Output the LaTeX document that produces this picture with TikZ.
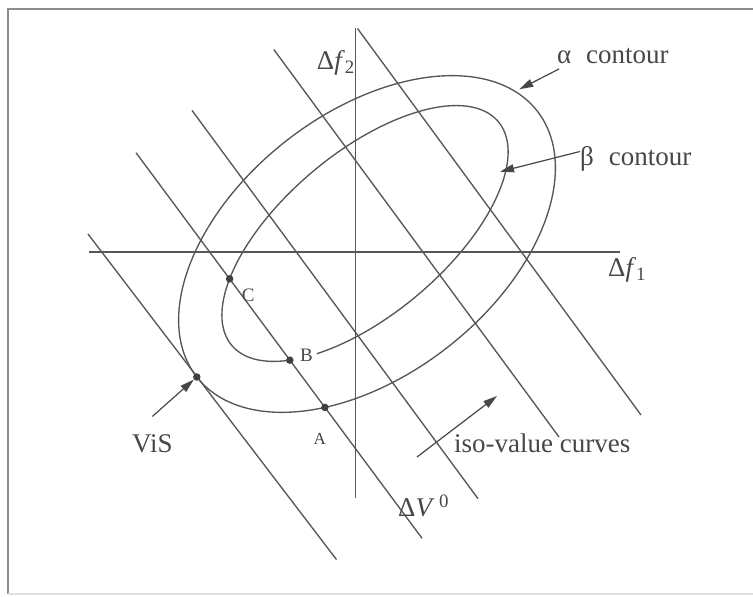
\documentclass[tikz,border=0pt]{standalone}
\usepackage{fontspec}
\setmainfont{Liberation Serif}
\usetikzlibrary{arrows.meta, intersections}
\tikzset{
  curve/.style={draw=black!66, line width=1.35pt},
  lab/.style={text=black!72, font=\fontsize{27}{31}\selectfont, inner sep=0pt, anchor=base west},
  ptlab/.style={text=black!72, font=\fontsize{19}{22}\selectfont, inner sep=0pt, anchor=base west},
  dot/.style={circle, fill=black!75, inner sep=0pt, minimum size=7.5pt},
  ar/.style={-{Triangle[length=14pt,width=8pt]}, draw=black!72, fill=black!72, line width=1.2pt},
  frame/.style={draw=black!45, line width=1.4pt}
}

\begin{document}
\begin{tikzpicture}[x=1pt, y=1pt]
\useasboundingbox (0,0) rectangle (753,597);
% frame
\draw[frame] (8,3) -- (8,588) -- (753,588);
\draw[frame, draw=black!12] (8,3) -- (753,3);

% axes
\draw[curve] (89,345) -- (620,345);
\draw[curve] (355.5,568.5) -- (355.5,98.5);

% iso-value lines
\draw[curve] (88,363) -- (336.5,37.4);
\draw[curve, name path=v0] (136,444.3) -- (422,58.7);
\draw[curve] (192,486.6) -- (478,98.3);
\draw[curve] (273.8,547.5) -- (559,160);
\draw[curve] (357.5,568.5) -- (641,182);

% alpha and beta contours
\draw[curve, name path=alpha, rotate around={38:(367,353)}] (367,353) ellipse [x radius=216, y radius=131];
\path[name path=beta, shift={(365,363.5)}, rotate=40] (0,0) ellipse [x radius=174, y radius=81];
\draw[curve, shift={(365,363.5)}, rotate=40] (229:174 and 81)
  arc [start angle=229, end angle=577, x radius=174, y radius=81];

% points on the contours
\path[name intersections={of=v0 and beta, sort by=v0, by={C,B}}];
\path[name intersections={of=v0 and alpha, sort by=v0, by={A1,A}}];
\path[shift={(367,353)}, rotate=38] (180:216 and 131) coordinate (vis);
\node[dot] (dC) at (C) {};
\node[dot] (dB) at (B) {};
\node[dot] (dA) at (A) {};
\node[dot] (dV) at (vis) {};

% labels
\node[ptlab] (lC) at (241.7,295.3) {C};
\node[ptlab] (lB) at (300,235.3) {B};
\node[ptlab, font=\fontsize{17}{20}\selectfont] (lA) at (313.3,152) {A};
\node[lab] (lf1) at (608,320) {Δ\textit{f}\textsubscript{1}};
\node[lab] (lf2) at (316.7,527) {Δ\textit{f}\textsubscript{2}};
\node[lab] (lv0) at (398,80.3) {Δ\textit{V}\,\textsuperscript{0}};
\node[lab] (lalpha) at (557,533) {α\hspace{0.55em}contour};
\node[lab] (lbeta) at (580,431.5) {β\hspace{0.55em}contour};
\node[lab] (lvis) at (132,144.5) {ViS};
\node[lab] (liso) at (454,144.5) {iso-value curves};

% pointers
\coordinate (atip) at (519.3,507.7);
\coordinate (btip) at (500,425.3);
\coordinate (isotip) at (497,201);
\draw[ar] ([shift={(2,-5)}]lalpha.base west) -- (atip);
\draw[ar] ([yshift=14pt]lbeta.base west) -- (btip);
\draw[ar] ([yshift=18pt]lvis.north) -- (dV);
\draw[ar] ([shift={(-37,-4.5)}]liso.base west) -- (isotip);
\end{tikzpicture}
\end{document}
